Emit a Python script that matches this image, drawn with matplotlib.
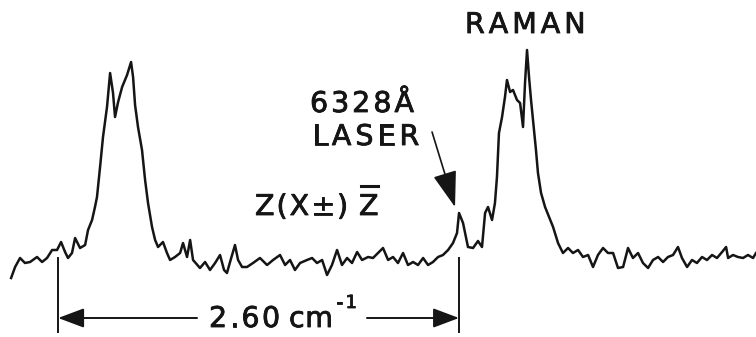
import matplotlib

matplotlib.use("Agg")
import matplotlib.pyplot as plt
import matplotlib.transforms as mtransforms
import matplotlib.patheffects as pe

# Spectrum: Raman shift relative to the 6328 A laser
# line (cm^-1) and recorder intensity (arbitrary units).
shift = [
    -2.905, -2.879, -2.847, -2.815, -2.782, -2.737, -2.704, -2.672, -2.639, -2.607,
    -2.581, -2.555, -2.536, -2.510, -2.490, -2.458, -2.425, -2.406, -2.380, -2.361,
    -2.348, -2.328, -2.309, -2.283, -2.263, -2.244, -2.231, -2.211, -2.185, -2.153,
    -2.127, -2.114, -2.101, -2.082, -2.056, -2.036, -2.017, -1.991, -1.971, -1.952,
    -1.920, -1.894, -1.874, -1.842, -1.809, -1.790, -1.764, -1.744, -1.725, -1.680,
    -1.647, -1.615, -1.582, -1.550, -1.524, -1.505, -1.485, -1.453, -1.433, -1.407,
    -1.375, -1.336, -1.291, -1.245, -1.206, -1.161, -1.128, -1.096, -1.064, -1.031,
    -0.986, -0.953, -0.921, -0.888, -0.856, -0.824, -0.791, -0.759, -0.726, -0.694,
    -0.661, -0.629, -0.590, -0.558, -0.525, -0.493, -0.460, -0.428, -0.396, -0.363,
    -0.331, -0.298, -0.266, -0.233, -0.201, -0.169, -0.136, -0.104, -0.071, -0.039,
    -0.013, 0.000, 0.026, 0.058, 0.091, 0.123, 0.149, 0.169, 0.188, 0.214,
    0.233, 0.246, 0.259, 0.279, 0.298, 0.311, 0.331, 0.350, 0.376, 0.396,
    0.415, 0.428, 0.441, 0.454, 0.467, 0.480, 0.499, 0.512, 0.532, 0.558,
    0.584, 0.610, 0.642, 0.674, 0.707, 0.739, 0.772, 0.804, 0.837, 0.869,
    0.901, 0.934, 0.966, 0.999, 1.031, 1.064, 1.096, 1.128, 1.161, 1.193,
    1.226, 1.258, 1.291, 1.323, 1.355, 1.388, 1.420, 1.446, 1.479, 1.511,
    1.543, 1.576, 1.608, 1.641, 1.673, 1.706, 1.732, 1.745, 1.777, 1.809,
    1.842, 1.874, 1.907, 1.926,
]
intensity = [
    2, 13, 22, 17, 18, 23, 18, 22, 30, 30,
    38, 28, 22, 27, 42, 32, 35, 50, 60, 73,
    83, 113, 143, 173, 207, 187, 163, 178, 193, 205,
    218, 203, 175, 153, 130, 100, 77, 53, 40, 33,
    38, 27, 20, 23, 27, 37, 23, 40, 20, 12,
    18, 10, 17, 25, 10, 7, 18, 35, 20, 13,
    13, 17, 22, 15, 20, 25, 15, 20, 10, 17,
    20, 22, 17, 20, 5, 15, 30, 15, 22, 17,
    28, 20, 23, 22, 27, 32, 20, 23, 17, 27,
    15, 18, 15, 22, 15, 18, 23, 25, 30, 37,
    47, 67, 57, 33, 32, 39, 33, 67, 73, 60,
    77, 103, 147, 163, 183, 200, 188, 190, 180, 177,
    153, 197, 230, 203, 180, 160, 130, 107, 87, 73,
    63, 53, 37, 27, 32, 27, 30, 23, 25, 13,
    25, 32, 27, 27, 12, 13, 32, 22, 27, 17,
    12, 20, 23, 18, 23, 25, 33, 22, 13, 20,
    17, 23, 20, 25, 22, 28, 33, 22, 25, 23,
    22, 25, 22, 27,
]

SPLITTING = 2.60  # cm^-1, Stokes/anti-Stokes separation marked on the chart
LASER = 0.0

W, H = 756, 337
INK = "#151515"
FONT = "DejaVu Sans"
HEAVY = [pe.withStroke(linewidth=0.6, foreground=INK)]


def px(x, y):
    """reference-image pixel position -> axes fraction (axes fills the figure)"""
    return x / W, 1 - y / H


def spaced_text(ax, x, y, s, track, size, **kw):
    """draw s letter by letter with extra tracking (dots) like stencil lettering"""
    fig = ax.figure
    r = fig.canvas.get_renderer()
    dx = 0.0
    for ch in s:
        tr = mtransforms.offset_copy(ax.transAxes, fig=fig, x=dx, y=0, units="dots")
        t = ax.text(x, y, ch, transform=tr, ha="left", va="baseline",
                    fontsize=size, family=FONT, color=INK, path_effects=HEAVY, **kw)
        dx += t.get_window_extent(r).width + track
    return dx


fig = plt.figure(figsize=(W / 100, H / 100), dpi=100)
ax = fig.add_axes([0, 0, 1, 1])
ax.set_xlim(-2.977, 1.926)
ax.set_ylim(-57, 280)
ax.axis("off")

ax.plot(shift, intensity, color=INK, lw=1.8, solid_joinstyle="round")

# marker lines for the measured splitting
for xv in (LASER - SPLITTING, LASER):
    ax.plot([xv, xv], [22, -52], color=INK, lw=1.4)
yb = -38
head = dict(arrowstyle="-|>,head_length=0.8,head_width=0.3", mutation_scale=20,
            lw=1.4, color=INK, shrinkA=0, shrinkB=0)
ax.annotate("", xy=(LASER - SPLITTING, yb), xytext=(-1.699, yb), arrowprops=head)
ax.annotate("", xy=(LASER, yb), xytext=(-0.597, yb), arrowprops=head)

# labels
SIZE = 20.5
spaced_text(ax, *px(465, 33), "RAMAN", 4.0, SIZE)
spaced_text(ax, *px(310, 112), "6328Å", 3.0, SIZE)
spaced_text(ax, *px(312, 145), "LASER", 4.0, SIZE)
spaced_text(ax, *px(255, 215), "Z(X±)", 2.0, SIZE)
spaced_text(ax, *px(359, 215), "Z", 0, SIZE)
ax.plot([px(361, 0)[0], px(378, 0)[0]], [px(0, 186)[1]] * 2, color=INK, lw=2.2,
        transform=ax.transAxes)
spaced_text(ax, *px(209, 327), "2.60", 2.5, SIZE)
spaced_text(ax, *px(289, 327), "cm", 0.5, SIZE)
spaced_text(ax, *px(336, 308), "-1", 3.0, 13)

ax.annotate("", xy=(-0.026, 73), xytext=(-0.175, 148),
            arrowprops=dict(arrowstyle="-|>,head_length=0.9,head_width=0.3",
                            mutation_scale=25, lw=1.2, color=INK,
                            shrinkA=0, shrinkB=0))

fig.savefig("out.png", dpi=100)
